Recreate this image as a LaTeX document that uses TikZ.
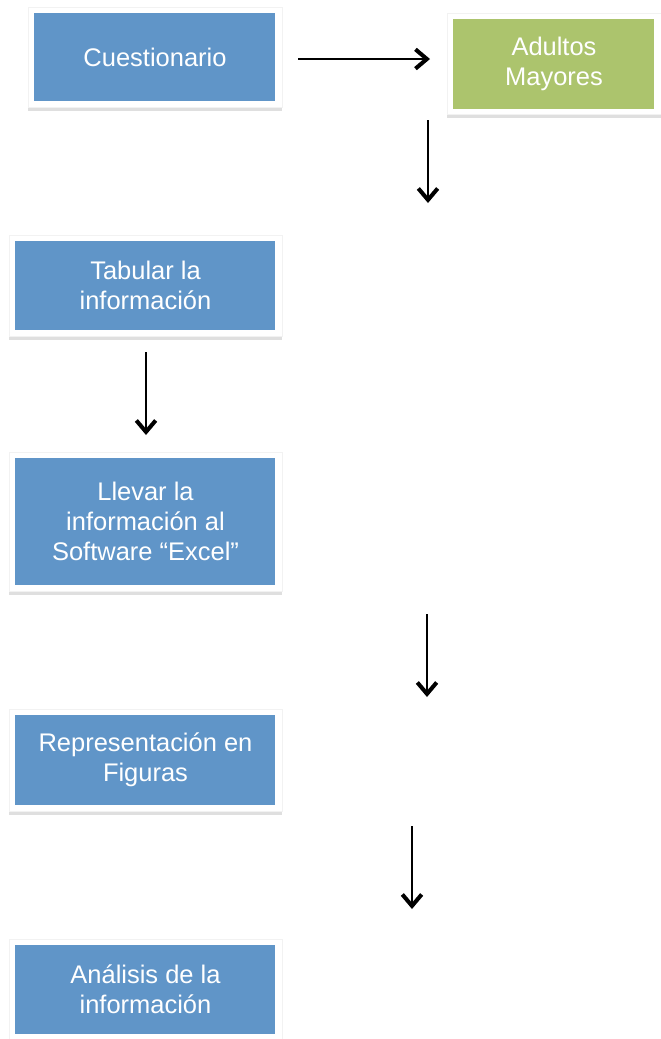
\documentclass[tikz,border=0pt]{standalone}
\usepackage{fontspec}
\setmainfont{Liberation Sans}
\usetikzlibrary{arrows.meta,shadows}
\definecolor{cajaazul}{RGB}{96,149,200}
\definecolor{cajaverde}{RGB}{172,196,109}
\tikzset{
    caja/.style = {rectangle, fill=white, draw=black!5, line width=0.3pt,
        text=white, align=center, inner sep=0pt,
        font=\fontsize{14.5}{17}\selectfont,
        drop shadow={shadow xshift=0.2pt, shadow yshift=-2.2pt, opacity=0.25},
        path picture={\fill[#1]
            ([shift={(3.4pt,-3.4pt)}]path picture bounding box.north west) rectangle
            ([shift={(-3.7pt,3.4pt)}]path picture bounding box.south east);}},
    caja/.default = cajaazul,
    flecha/.style = {line width=1.1pt,
        -{Straight Barb[length=6.5pt, width=11pt, line width=2.3pt]}}
}
\begin{document}
\begin{tikzpicture}[x = 0.02cm, y = -0.02cm]
        \useasboundingbox (0,0) rectangle (661,1039);

        \node[caja, minimum width = 5.08cm, minimum height = 2cm]
            (cuestionario) at (155,57) {Cuestionario};
        \node[caja = cajaverde, minimum width = 4.28cm, minimum height = 2.02cm]
            (adultos) at (554,64) {Adultos\\Mayores};
        \node[caja, minimum width = 5.46cm, minimum height = 2.02cm]
            (tabular) at (145.5,285.5) {Tabular la\\información};
        \node[caja, minimum width = 5.46cm, minimum height = 2.78cm]
            (llevar) at (145.5,521.5) {Llevar la\\información al\\Software “Excel”};
        \node[caja, minimum width = 5.46cm, minimum height = 2.04cm]
            (figuras) at (145.5,760) {Representación en\\Figuras};
        \node[caja, minimum width = 5.46cm, minimum height = 2.02cm]
            (analisis) at (145.5,989.5) {Análisis de la\\información};

        % free ends of the arrows
        \coordinate (h0) at (298,59);
        \coordinate (h1) at (430,59);
        \foreach \n/\x/\y in {1/428/120, 2/146/352, 3/427/614, 4/412/826} {
            \coordinate (v\n a) at (\x,\y);
            \coordinate (v\n b) at (\x,\y+83);
        }

        \draw[flecha] (h0) -- (h1);
        \foreach \n in {1,...,4} {
            \draw[flecha] (v\n a) -- (v\n b);
        }
    \end{tikzpicture}
\end{document}
